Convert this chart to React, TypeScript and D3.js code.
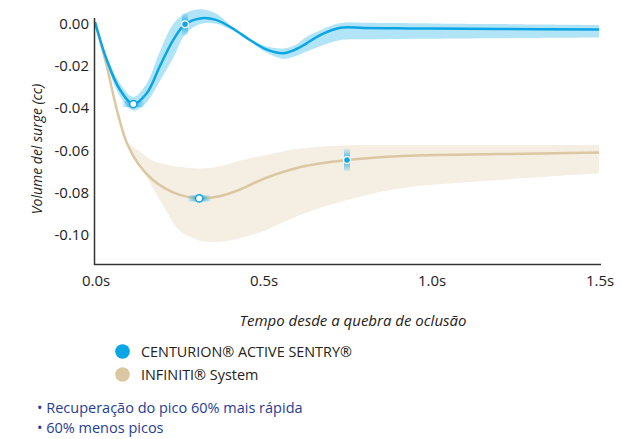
import React from "react";
import * as d3 from "d3";

const blueT = [0, 0.035, 0.074, 0.114, 0.154, 0.193, 0.233, 0.268, 0.3125, 0.36, 0.41, 0.46, 0.51, 0.56, 0.6, 0.63, 0.67, 0.73, 0.8, 0.9, 1.0, 1.2, 1.5];
const blueV = [0, -0.018, -0.032, -0.0389, -0.0338, -0.021, -0.0085, -0.0011, 0.0017, 0.001, -0.0031, -0.0084, -0.013, -0.0148, -0.0128, -0.0101, -0.0062, -0.0027, -0.0028, -0.003, -0.0031, -0.0033, -0.0035];
const blueHi = [0, -0.016, -0.029, -0.0355, -0.029, -0.014, -0.001, 0.004, 0.006, 0.004, -0.0025, -0.008, -0.0115, -0.0125, -0.0105, -0.007, -0.004, -0.0005, -0.0003, -0.0005, -0.0007, -0.001, -0.0014];
const blueLo = [0, -0.02, -0.035, -0.042, -0.038, -0.028, -0.017, -0.006, -0.001, -0.0008, -0.004, -0.009, -0.0145, -0.0175, -0.016, -0.014, -0.0115, -0.0085, -0.0082, -0.008, -0.0079, -0.0077, -0.0074];

const tanT = [0, 0.035, 0.065, 0.095, 0.13, 0.17, 0.21, 0.25, 0.31, 0.37, 0.43, 0.51, 0.61, 0.75, 0.9, 1.2, 1.5];
const tanV = [0, -0.021, -0.0415, -0.0575, -0.0675, -0.0745, -0.079, -0.0818, -0.0836, -0.0826, -0.0795, -0.0738, -0.0688, -0.0654, -0.0636, -0.0626, -0.0619];
const tanHi = [0, -0.021, -0.0415, -0.0565, -0.061, -0.0655, -0.0675, -0.0686, -0.0694, -0.0685, -0.0658, -0.063, -0.06, -0.0585, -0.0583, -0.0583, -0.0583];
const tanLo = [0, -0.021, -0.0415, -0.058, -0.0672, -0.078, -0.089, -0.0986, -0.1035, -0.1042, -0.1025, -0.0986, -0.0915, -0.0844, -0.079, -0.0749, -0.0717];

const markerT = [0.114, 0.268, 0.31, 0.75];
const markerV = [-0.0389, -0.0011, -0.0836, -0.0654];
const markerKind = ["ring", "dot", "ring", "dot"];

const yTicks = [0, -0.02, -0.04, -0.06, -0.08, -0.1];
const xTicks = [0, 0.5, 1.0, 1.5];
const xTickLabels = ["0.0s", "0.5s", "1.0s", "1.5s"];

const legendLabels = ["CENTURION® ACTIVE SENTRY®", "INFINITI® System"];
const bullets = ["Recuperação do pico 60% mais rápida", "60% menos picos"];

const BLUE = "#0aa5e4";
const BLUE_BAND = "#b2e4f7";
const TAN = "#dcc7a3";
const TAN_BAND = "#f4eee3";
const FONT = "'Open Sans', sans-serif";

export default function App() {
  const x = d3.scaleLinear().domain([0, 1.5]).range([95, 599]);
  const y = d3.scaleLinear().domain([-0.1, 0]).range([233, 22]);

  const mk = (ts: number[], vs: number[]) => ts.map((t, i) => [t, vs[i]] as [number, number]);
  const line = d3.line<[number, number]>().x((d) => x(d[0])).y((d) => y(d[1])).curve(d3.curveCatmullRom.alpha(0.5));
  const band = (ts: number[], hi: number[], lo: number[]) =>
    d3
      .area<number>()
      .x((i) => x(ts[i]))
      .y0((i) => y(lo[i]))
      .y1((i) => y(hi[i]))
      .curve(d3.curveCatmullRom.alpha(0.5))(ts.map((_, i) => i)) as string;

  return (
    <svg width={637} height={439} style={{ position: "absolute", left: 0, top: 0 }} fontFamily={FONT}>
      <defs>
        <linearGradient id="hglow" x1="0" x2="1" y1="0" y2="0">
          <stop offset="0" stopColor={BLUE} stopOpacity={0} />
          <stop offset="0.5" stopColor={BLUE} stopOpacity={0.9} />
          <stop offset="1" stopColor={BLUE} stopOpacity={0} />
        </linearGradient>
        <linearGradient id="vglow" x1="0" x2="0" y1="0" y2="1">
          <stop offset="0" stopColor={BLUE} stopOpacity={0.1} />
          <stop offset="0.5" stopColor={BLUE} stopOpacity={0.85} />
          <stop offset="1" stopColor={BLUE} stopOpacity={0.1} />
        </linearGradient>
      </defs>

      <path d={band(tanT, tanHi, tanLo)} fill={TAN_BAND} />
      <path d={line(mk(tanT, tanV)) as string} fill="none" stroke={TAN} strokeWidth={2.5} />
      <path d={band(blueT, blueHi, blueLo)} fill={BLUE_BAND} />
      <path d={line(mk(blueT, blueV)) as string} fill="none" stroke={BLUE} strokeWidth={2.5} />

      {markerT.map((t, i) => {
        const cx = x(t);
        const cy = y(markerV[i]);
        if (markerKind[i] === "ring") {
          return (
            <g key={i}>
              <rect x={cx - 12} y={cy - 3} width={24} height={6} fill="url(#hglow)" />
              <circle cx={cx} cy={cy} r={3.6} fill="#fff" stroke={BLUE} strokeWidth={1.5} />
            </g>
          );
        }
        return (
          <g key={i}>
            <rect x={cx - 3} y={cy - 11} width={6} height={22} fill="url(#vglow)" />
            <circle cx={cx} cy={cy} r={3.4} fill={BLUE} stroke="#fff" strokeWidth={1.3} />
          </g>
        );
      })}

      <line x1={94.5} x2={94.5} y1={18} y2={265} stroke="#333" strokeWidth={1.5} />
      <line x1={94} x2={601} y1={264.5} y2={264.5} stroke="#333" strokeWidth={1.5} />

      {yTicks.map((v) => (
        <text key={v} x={89} y={y(v) + 1} textAnchor="end" dominantBaseline="central" fontSize={15} fill="#222">
          {v.toFixed(2)}
        </text>
      ))}
      {xTicks.map((t, i) => (
        <text key={t} x={x(t) + 1} y={286} textAnchor="middle" fontSize={15} fill="#222">
          {xTickLabels[i]}
        </text>
      ))}

      <text transform="translate(42,149) rotate(-90)" textAnchor="middle" fontSize={14} fontStyle="italic" fill="#222">
        Volume del surge (cc)
      </text>
      <text x={353} y={326} textAnchor="middle" fontSize={15} fontStyle="italic" fill="#222">
        Tempo desde a quebra de oclusão
      </text>

      {legendLabels.map((l, i) => (
        <g key={l}>
          <circle cx={122.5} cy={351.5 + i * 23} r={7.3} fill={i === 0 ? BLUE : TAN} />
          <text x={141} y={357 + i * 23} fontSize={14.4} fill="#222">
            {l}
          </text>
        </g>
      ))}

      {bullets.map((b, i) => (
        <text key={b} x={37} y={413 + i * 19.5} fontSize={14.5} fill="#1f3d96">
          {"• " + b}
        </text>
      ))}
    </svg>
  );
}
